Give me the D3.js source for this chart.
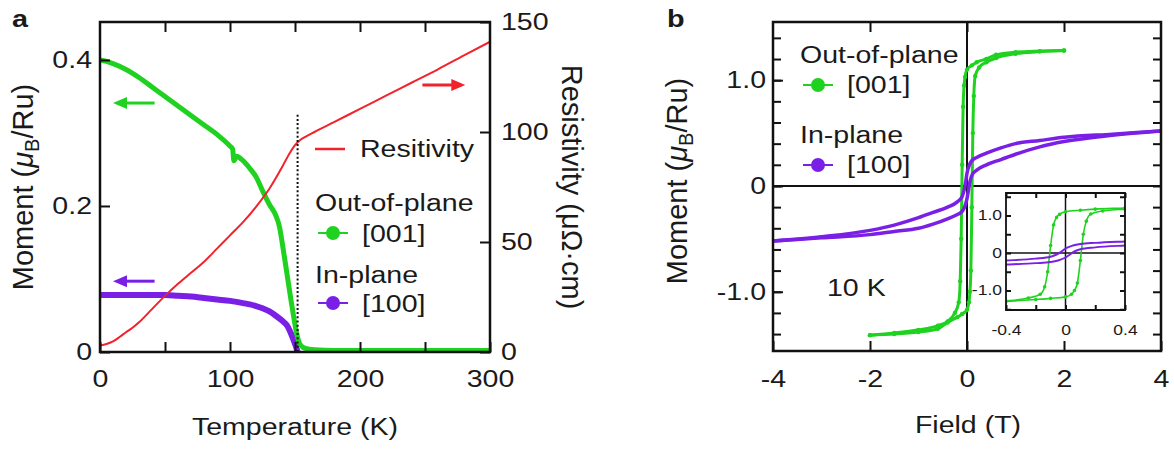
<!DOCTYPE html>
<html>
<head>
<meta charset="utf-8">
<script src="https://cdn.jsdelivr.net/npm/d3@7"></script>
<style>
  body { margin: 0; background: #fff; }
  svg { display: block; }
</style>
</head>
<body>
<svg id="fig" width="1174" height="452"></svg>
<script>
// ---------- panel a : M(T) and resistivity ----------
const tempRes = [0, 5, 10, 15, 20, 25, 30, 40, 50, 60, 70, 80, 90, 100, 110, 120, 130, 140, 146, 150, 154, 158, 165, 180, 200, 220, 240, 260, 280, 300];
const resistivity = [3.0, 3.6, 4.8, 6.8, 9.0, 11.0, 13.5, 19.5, 25.5, 31, 36, 41, 47, 53, 59, 66, 74, 84, 90.5, 94, 96.4, 97.8, 100, 104.5, 110.5, 116.5, 122.5, 128.5, 134.8, 141];

const tempOut = [0, 5, 10, 20, 30, 40, 50, 60, 70, 80, 90, 100, 102, 103, 105, 110, 115, 120, 125, 130, 135, 138, 141, 144, 147, 149, 151, 153, 155, 158, 165, 180, 200, 250, 300];
const momentOut = [0.400, 0.398, 0.395, 0.387, 0.376, 0.363, 0.350, 0.337, 0.324, 0.311, 0.298, 0.282, 0.278, 0.262, 0.268, 0.262, 0.252, 0.240, 0.221, 0.203, 0.188, 0.172, 0.140, 0.105, 0.070, 0.048, 0.028, 0.014, 0.008, 0.005, 0.003, 0.002, 0.002, 0.002, 0.002];

const tempIn = [0, 10, 20, 30, 40, 50, 60, 70, 80, 90, 100, 110, 120, 125, 130, 135, 140, 144, 147, 149, 151, 152];
const momentIn = [0.078, 0.078, 0.078, 0.078, 0.078, 0.078, 0.077, 0.076, 0.074, 0.072, 0.070, 0.067, 0.063, 0.060, 0.056, 0.050, 0.043, 0.036, 0.025, 0.016, 0.006, 0.0];

const tCurie = 152;
const tempTicks = [0, 50, 100, 150, 200, 250, 300];
const tempLabels = [0, 100, 200, 300];
const momentTicksA = [0, 0.2, 0.4];
const resTicks = [0, 50, 100, 150];

// ---------- panel b : M(H) at 10 K (branches listed by increasing field) ----------
const fieldOutDown = [-2.0, -1.5, -1.0, -0.6, -0.4, -0.25, -0.17, -0.14, -0.12, -0.1, -0.08, -0.06, -0.04, 0, 0.1, 0.2, 0.4, 0.6, 1.0, 1.5, 2.0];
const momentOutDown = [-1.41, -1.39, -1.36, -1.32, -1.28, -1.20, -1.10, -0.90, -0.50, 0.20, 0.75, 0.95, 1.03, 1.10, 1.14, 1.17, 1.20, 1.24, 1.265, 1.275, 1.28];
const fieldOutUp = [-2.0, -1.5, -1.0, -0.6, -0.4, -0.2, -0.1, 0, 0.04, 0.06, 0.08, 0.1, 0.12, 0.14, 0.17, 0.25, 0.4, 0.6, 1.0, 1.5, 2.0];
const momentOutUp = [-1.41, -1.40, -1.38, -1.35, -1.29, -1.24, -1.21, -1.17, -1.10, -1.0, -0.8, -0.2, 0.5, 0.85, 1.04, 1.12, 1.17, 1.21, 1.25, 1.27, 1.28];

const fieldInDown = [-4, -3, -2, -1.5, -1, -0.7, -0.4, -0.2, -0.1, -0.06, -0.03, 0, 0.05, 0.1, 0.2, 0.4, 0.7, 1, 1.5, 2, 3, 4];
const momentInDown = [-0.52, -0.48, -0.42, -0.37, -0.30, -0.25, -0.20, -0.15, -0.10, -0.04, 0.03, 0.12, 0.20, 0.24, 0.27, 0.31, 0.36, 0.40, 0.43, 0.46, 0.49, 0.52];
const fieldInUp = [-4, -3, -2, -1.5, -1, -0.7, -0.4, -0.2, -0.1, -0.05, 0, 0.03, 0.06, 0.1, 0.2, 0.4, 0.7, 1, 1.5, 2, 3, 4];
const momentInUp = [-0.52, -0.49, -0.46, -0.43, -0.40, -0.36, -0.31, -0.27, -0.24, -0.20, -0.12, -0.04, 0.04, 0.10, 0.15, 0.20, 0.25, 0.30, 0.37, 0.42, 0.48, 0.52];

const fieldTicks = [-4, -2, 0, 2, 4];
const fieldTopTicks = [-2, 0, 2];
const momentTicksB = [-1, 0, 1];
const momentMinorB = [-1.4, -1.2, -1.0, -0.8, -0.6, -0.4, -0.2, 0, 0.2, 0.4, 0.6, 0.8, 1.0, 1.2, 1.4];
const insetFieldTicks = [-0.4, -0.2, 0, 0.2, 0.4];
const insetFieldLabels = [-0.4, 0, 0.4];
const insetMomentTicks = [-1.5, -1, -0.5, 0, 0.5, 1, 1.5];
const insetMomentLabels = [-1, 0, 1];

// ---------- style ----------
const FONT = 'Liberation Sans, Arial, Helvetica, sans-serif';
const SX = 1.24;            // the figure is horizontally stretched
const GREEN = '#1fd21f', PURPLE = '#7a20e6', RED = '#f2222c', INK = '#1a1a1a';

const svg = d3.select('#fig');
const zip = (xs, ys) => xs.map((x, i) => [x, ys[i]]);

function stretch(sel, k) {
  sel.each(function () {
    const w = this.getComputedTextLength();
    if (w > 0) d3.select(this).attr('textLength', w * k).attr('lengthAdjust', 'spacingAndGlyphs');
  });
}

function styleAxis(g, fs, k) {
  g.select('.domain').remove();
  g.attr('font-family', FONT).attr('font-size', fs);
  g.selectAll('.tick line').attr('stroke', '#111').attr('stroke-width', 2);
  g.selectAll('.tick text').attr('fill', INK);
  stretch(g.selectAll('.tick text'), k);
}

function addText(x, y, str, opt = {}) {
  const t = svg.append('text').attr('x', x).attr('y', y)
    .attr('font-family', FONT).attr('font-size', opt.size || 23)
    .attr('font-weight', opt.weight || 'normal')
    .attr('text-anchor', opt.anchor || 'start').attr('fill', INK).text(str);
  stretch(t, opt.k || SX);
  return t;
}

function drawFrame(x0, y0, x1, y1, w) {
  svg.append('path').attr('class', 'frame').attr('d', `M${x0},${y0}H${x1}V${y1}H${x0}Z`)
    .attr('fill', 'none').attr('stroke', '#111').attr('stroke-width', w);
}

const defs = svg.append('defs');
function makeClip(id, x0, y0, x1, y1) {
  defs.append('clipPath').attr('id', id).append('rect')
    .attr('x', x0).attr('y', y0).attr('width', x1 - x0).attr('height', y1 - y0);
  return `url(#${id})`;
}

function legendMarker(x, y, color) {
  svg.append('line').attr('x1', x - 15).attr('x2', x + 15).attr('y1', y).attr('y2', y)
    .attr('stroke', color).attr('stroke-width', 2);
  svg.append('circle').attr('cx', x).attr('cy', y).attr('r', 7).attr('fill', color);
}

function arrow(x1, x2, y, color) {
  const dir = Math.sign(x2 - x1);
  svg.append('line').attr('x1', x1).attr('x2', x2 - dir * 10).attr('y1', y).attr('y2', y)
    .attr('stroke', color).attr('stroke-width', 3);
  svg.append('path').attr('d', `M${x2},${y} L${x2 - dir * 14},${y - 6} L${x2 - dir * 14},${y + 6} Z`)
    .attr('fill', color);
}

function fmt1(d) {
  return d === 0 ? '0' : (d < 0 ? '-' : '') + d3.format('.1f')(Math.abs(d));
}

// ================= panel a =================
const ax = d3.scaleLinear().domain([0, 300]).range([100, 490]);
const ayM = d3.scaleLinear().domain([0, 0.452]).range([352, 22]);
const ayR = d3.scaleLinear().domain([0, 150]).range([352, 22]);
const clipA = makeClip('clipA', 100, 22, 490, 352);

const lineA = d3.line().curve(d3.curveMonotoneX);
svg.append('path').datum(zip(tempIn, momentIn).map(([t, m]) => [ax(t), ayM(m)]))
  .attr('d', lineA).attr('fill', 'none').attr('stroke', PURPLE).attr('stroke-width', 6)
  .attr('clip-path', clipA);
svg.append('path').datum(zip(tempOut, momentOut).map(([t, m]) => [ax(t), ayM(m)]))
  .attr('d', lineA).attr('fill', 'none').attr('stroke', GREEN).attr('stroke-width', 5)
  .attr('stroke-linejoin', 'round').attr('clip-path', clipA);
svg.append('path').datum(zip(tempRes, resistivity).map(([t, r]) => [ax(t), ayR(r)]))
  .attr('d', lineA).attr('fill', 'none').attr('stroke', RED).attr('stroke-width', 2)
  .attr('clip-path', clipA);

svg.append('line').attr('x1', ax(tCurie)).attr('x2', ax(tCurie))
  .attr('y1', ayM(0.325)).attr('y2', ayM(0))
  .attr('stroke', '#111').attr('stroke-width', 2).attr('stroke-dasharray', '2,2.2');

svg.append('g').attr('transform', 'translate(0,352)')
  .call(d3.axisBottom(ax).tickValues(tempTicks).tickSize(-10).tickPadding(19)
    .tickFormat(d => tempLabels.includes(d) ? String(d) : ''))
  .call(g => styleAxis(g, 23, SX));
svg.append('g').attr('transform', 'translate(0,22)')
  .call(d3.axisTop(ax).tickValues(tempTicks.slice(1, -1)).tickSize(-10).tickFormat(''))
  .call(g => styleAxis(g, 23, SX));
svg.append('g').attr('transform', 'translate(100,0)')
  .call(d3.axisLeft(ayM).tickValues(momentTicksA).tickSize(-10).tickPadding(8).tickFormat(fmt1))
  .call(g => styleAxis(g, 23, SX));
svg.append('g').attr('transform', 'translate(490,0)')
  .call(d3.axisRight(ayR).tickValues(resTicks).tickSize(-10).tickPadding(11).tickFormat(String))
  .call(g => styleAxis(g, 23, SX));

arrow(ax(42), ax(10), ayM(0.341), GREEN);
arrow(ax(42), ax(10), ayM(0.097), PURPLE);
arrow(ax(248), ax(281), ayR(121.4), RED);

svg.append('line').attr('x1', 315).attr('x2', 345).attr('y1', 149).attr('y2', 149)
  .attr('stroke', RED).attr('stroke-width', 2.5);
addText(360, 157, 'Resitivity');
addText(315, 211, 'Out-of-plane');
legendMarker(333, 233, GREEN);
addText(362, 242, '[001]');
addText(315, 283, 'In-plane');
legendMarker(333, 303, PURPLE);
addText(362, 312, '[100]');

addText(295, 435, 'Temperature (K)', { anchor: 'middle' });
addText(12, 27, 'a', { weight: 'bold', size: 24, k: 1.2 });

const yTitleA = svg.append('text').attr('transform', 'translate(33,187) rotate(-90)')
  .attr('font-family', FONT).attr('font-size', 29).attr('text-anchor', 'middle').attr('fill', INK);
yTitleA.append('tspan').text('Moment (');
yTitleA.append('tspan').attr('font-style', 'italic').text('μ');
yTitleA.append('tspan').attr('font-size', 20).attr('dy', 6).text('B');
yTitleA.append('tspan').attr('dy', -6).text('/Ru)');

svg.append('text').attr('transform', 'translate(562,187) rotate(90)')
  .attr('font-family', FONT).attr('font-size', 29).attr('text-anchor', 'middle').attr('fill', INK)
  .text('Resistivity (μΩ·cm)');

// ================= panel b =================
const bx = d3.scaleLinear().domain([-4, 4]).range([773, 1161]);
const by = d3.scaleLinear().domain([-1.56, 1.55]).range([351, 22]);
const clipB = makeClip('clipB', 773, 22, 1161, 351);

svg.append('line').attr('x1', bx(0)).attr('x2', bx(0)).attr('y1', 22).attr('y2', 351)
  .attr('stroke', '#111').attr('stroke-width', 2);
svg.append('line').attr('x1', 773).attr('x2', 1161).attr('y1', by(0)).attr('y2', by(0))
  .attr('stroke', '#111').attr('stroke-width', 2);

function loop(xScale, yScale, fs, ms, color, width, dotR, clipUrl) {
  const pts = zip(fs, ms).map(([h, m]) => [xScale(h), yScale(m)]);
  svg.append('path').datum(pts).attr('d', d3.line().curve(d3.curveMonotoneX))
    .attr('fill', 'none').attr('stroke', color).attr('stroke-width', width).attr('clip-path', clipUrl);
  if (dotR) {
    svg.append('g').attr('clip-path', clipUrl).selectAll('circle').data(pts).join('circle')
      .attr('cx', d => d[0]).attr('cy', d => d[1]).attr('r', dotR).attr('fill', color);
  }
}

loop(bx, by, fieldOutDown, momentOutDown, GREEN, 3, 2.2, clipB);
loop(bx, by, fieldOutUp, momentOutUp, GREEN, 3, 2.2, clipB);
loop(bx, by, fieldInDown, momentInDown, PURPLE, 3.5, 0, clipB);
loop(bx, by, fieldInUp, momentInUp, PURPLE, 3.5, 0, clipB);

svg.append('g').attr('transform', 'translate(0,351)')
  .call(d3.axisBottom(bx).tickValues(fieldTicks).tickSize(-10).tickPadding(20).tickFormat(String))
  .call(g => styleAxis(g, 23, SX));
svg.append('g').attr('transform', 'translate(0,22)')
  .call(d3.axisTop(bx).tickValues(fieldTopTicks).tickSize(-10).tickFormat(''))
  .call(g => styleAxis(g, 23, SX));
svg.append('g').attr('transform', 'translate(773,0)')
  .call(d3.axisLeft(by).tickValues(momentMinorB).tickSize(-8).tickFormat(''))
  .call(g => styleAxis(g, 23, SX));
svg.append('g').attr('transform', 'translate(773,0)')
  .call(d3.axisLeft(by).tickValues(momentTicksB).tickSize(-10).tickPadding(7).tickFormat(fmt1))
  .call(g => styleAxis(g, 23, SX));
svg.append('g').attr('transform', 'translate(1161,0)')
  .call(d3.axisRight(by).tickValues(momentMinorB).tickSize(-8).tickFormat(''))
  .call(g => styleAxis(g, 23, SX));

// inset
const ix = d3.scaleLinear().domain([-0.4, 0.4]).range([1006, 1125]);
const iy = d3.scaleLinear().domain([-1.52, 1.6]).range([310, 193]);
const clipI = makeClip('clipI', 1006, 193, 1125, 310);

svg.append('rect').attr('x', 1006).attr('y', 193).attr('width', 119).attr('height', 117).attr('fill', '#fff');
svg.append('line').attr('x1', ix(0)).attr('x2', ix(0)).attr('y1', 193).attr('y2', 310)
  .attr('stroke', '#111').attr('stroke-width', 1.5);
svg.append('line').attr('x1', 1006).attr('x2', 1125).attr('y1', iy(0)).attr('y2', iy(0))
  .attr('stroke', '#111').attr('stroke-width', 1.5);

loop(ix, iy, fieldOutDown, momentOutDown, GREEN, 1.6, 1.8, clipI);
loop(ix, iy, fieldOutUp, momentOutUp, GREEN, 1.6, 1.8, clipI);
loop(ix, iy, fieldInDown, momentInDown, PURPLE, 2, 0, clipI);
loop(ix, iy, fieldInUp, momentInUp, PURPLE, 2, 0, clipI);

svg.append('g').attr('transform', 'translate(0,310)')
  .call(d3.axisBottom(ix).tickValues(insetFieldTicks).tickSize(-5).tickPadding(15)
    .tickFormat(d => insetFieldLabels.includes(d) ? fmt1(d) : ''))
  .call(g => styleAxis(g, 14, 1.25));
svg.append('g').attr('transform', 'translate(0,193)')
  .call(d3.axisTop(ix).tickValues(insetFieldTicks).tickSize(-5).tickFormat(''))
  .call(g => styleAxis(g, 14, 1.25));
svg.append('g').attr('transform', 'translate(1006,0)')
  .call(d3.axisLeft(iy).tickValues(insetMomentTicks).tickSize(-5).tickPadding(4)
    .tickFormat(d => insetMomentLabels.includes(d) ? fmt1(d) : ''))
  .call(g => styleAxis(g, 14, 1.25));
svg.append('g').attr('transform', 'translate(1125,0)')
  .call(d3.axisRight(iy).tickValues(insetMomentTicks).tickSize(-5).tickFormat(''))
  .call(g => styleAxis(g, 14, 1.25));

// labels
addText(800, 63, 'Out-of-plane');
legendMarker(818, 85, GREEN);
addText(847, 93, '[001]');
addText(800, 143, 'In-plane');
legendMarker(818, 165, PURPLE);
addText(847, 173, '[100]');
addText(827, 296, '10 K');
addText(968, 433, 'Field (T)', { anchor: 'middle' });
addText(667, 27, 'b', { weight: 'bold', size: 24, k: 1.2 });

const yTitleB = svg.append('text').attr('transform', 'translate(687,181) rotate(-90)')
  .attr('font-family', FONT).attr('font-size', 29).attr('text-anchor', 'middle').attr('fill', INK);
yTitleB.append('tspan').text('Moment (');
yTitleB.append('tspan').attr('font-style', 'italic').text('μ');
yTitleB.append('tspan').attr('font-size', 20).attr('dy', 6).text('B');
yTitleB.append('tspan').attr('dy', -6).text('/Ru)');

// plot frames last, on top of everything
drawFrame(100, 22, 490, 352, 2.5);
drawFrame(773, 22, 1161, 351, 2.5);
drawFrame(1006, 193, 1125, 310, 1.8);
</script>
</body>
</html>
